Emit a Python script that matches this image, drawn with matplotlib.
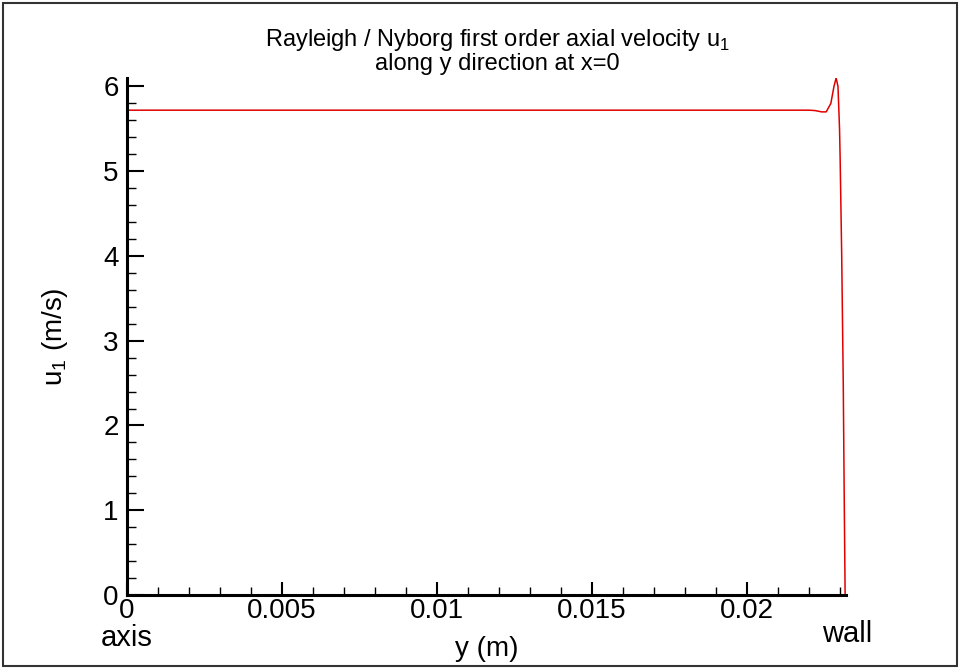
import matplotlib

matplotlib.use("Agg")
import matplotlib.pyplot as plt
from matplotlib.patches import Rectangle
from matplotlib.ticker import MultipleLocator

plt.rcParams["font.family"] = ["Liberation Sans", "DejaVu Sans"]

# velocity profile along y at x=0
y_pos = [0.0, 0.0220, 0.0222, 0.0224, 0.02255, 0.0227, 0.0228, 0.02287,
         0.02293, 0.02298, 0.0230, 0.02305, 0.0231, 0.02313, 0.02316]
u1 = [5.72, 5.72, 5.715, 5.70, 5.70, 5.80, 6.00, 6.10,
      6.00, 5.50, 5.14, 4.0, 2.5, 1.2, 0.0]

x_ticks = [0, 0.005, 0.01, 0.015, 0.02]
x_tick_labels = ["0", "0.005", "0.01", "0.015", "0.02"]
y_ticks = [0, 1, 2, 3, 4, 5, 6]

fig = plt.figure(figsize=(9.6, 6.71), dpi=100)
ax = fig.add_axes([0.1323, 0.1133, 0.749, 0.7705])

ax.plot(y_pos, u1, color="#e00000", linewidth=1.1)

ax.set_xlim(0, 0.02319)
ax.set_ylim(0, 6.1)
ax.set_xticks(x_ticks)
ax.set_xticklabels(x_tick_labels)
ax.set_yticks(y_ticks)
ax.xaxis.set_minor_locator(MultipleLocator(0.001))
ax.yaxis.set_minor_locator(MultipleLocator(0.2))
ax.tick_params(axis="x", which="major", direction="in", length=9.5, width=1.5,
               labelsize=20, pad=2)
ax.tick_params(axis="x", which="minor", direction="in", length=5.5, width=1.0)
ax.tick_params(axis="y", which="major", direction="in", length=12, width=1.5,
               labelsize=20, pad=6)
ax.tick_params(axis="y", which="minor", direction="in", length=6.5, width=1.0)

for side in ["top", "right"]:
    ax.spines[side].set_visible(False)
for side in ["left", "bottom"]:
    ax.spines[side].set_linewidth(2.2)

ax.set_xlabel("y (m)", fontsize=20, labelpad=9)
ax.set_ylabel(r"u$_\mathregular{1}$ (m/s)", fontsize=20, labelpad=24)
ax.set_title("Rayleigh / Nyborg first order axial velocity u$_\\mathregular{1}$\n"
             "along y direction at x=0", fontsize=17, pad=6, linespacing=0.95,
             x=(497 - 127) / 719)

fig.text(127 / 960, 1 - 646 / 671, "axis", fontsize=21, ha="center", va="baseline")
fig.text(847 / 960, 1 - 642 / 671, "wall", fontsize=21, ha="center", va="baseline")

fig.patches.append(Rectangle((3 / 960, 5 / 671), 954 / 960, 663 / 671,
                             transform=fig.transFigure, fill=False,
                             edgecolor="#333333", linewidth=1.5))

fig.savefig("out.png", dpi=100)
